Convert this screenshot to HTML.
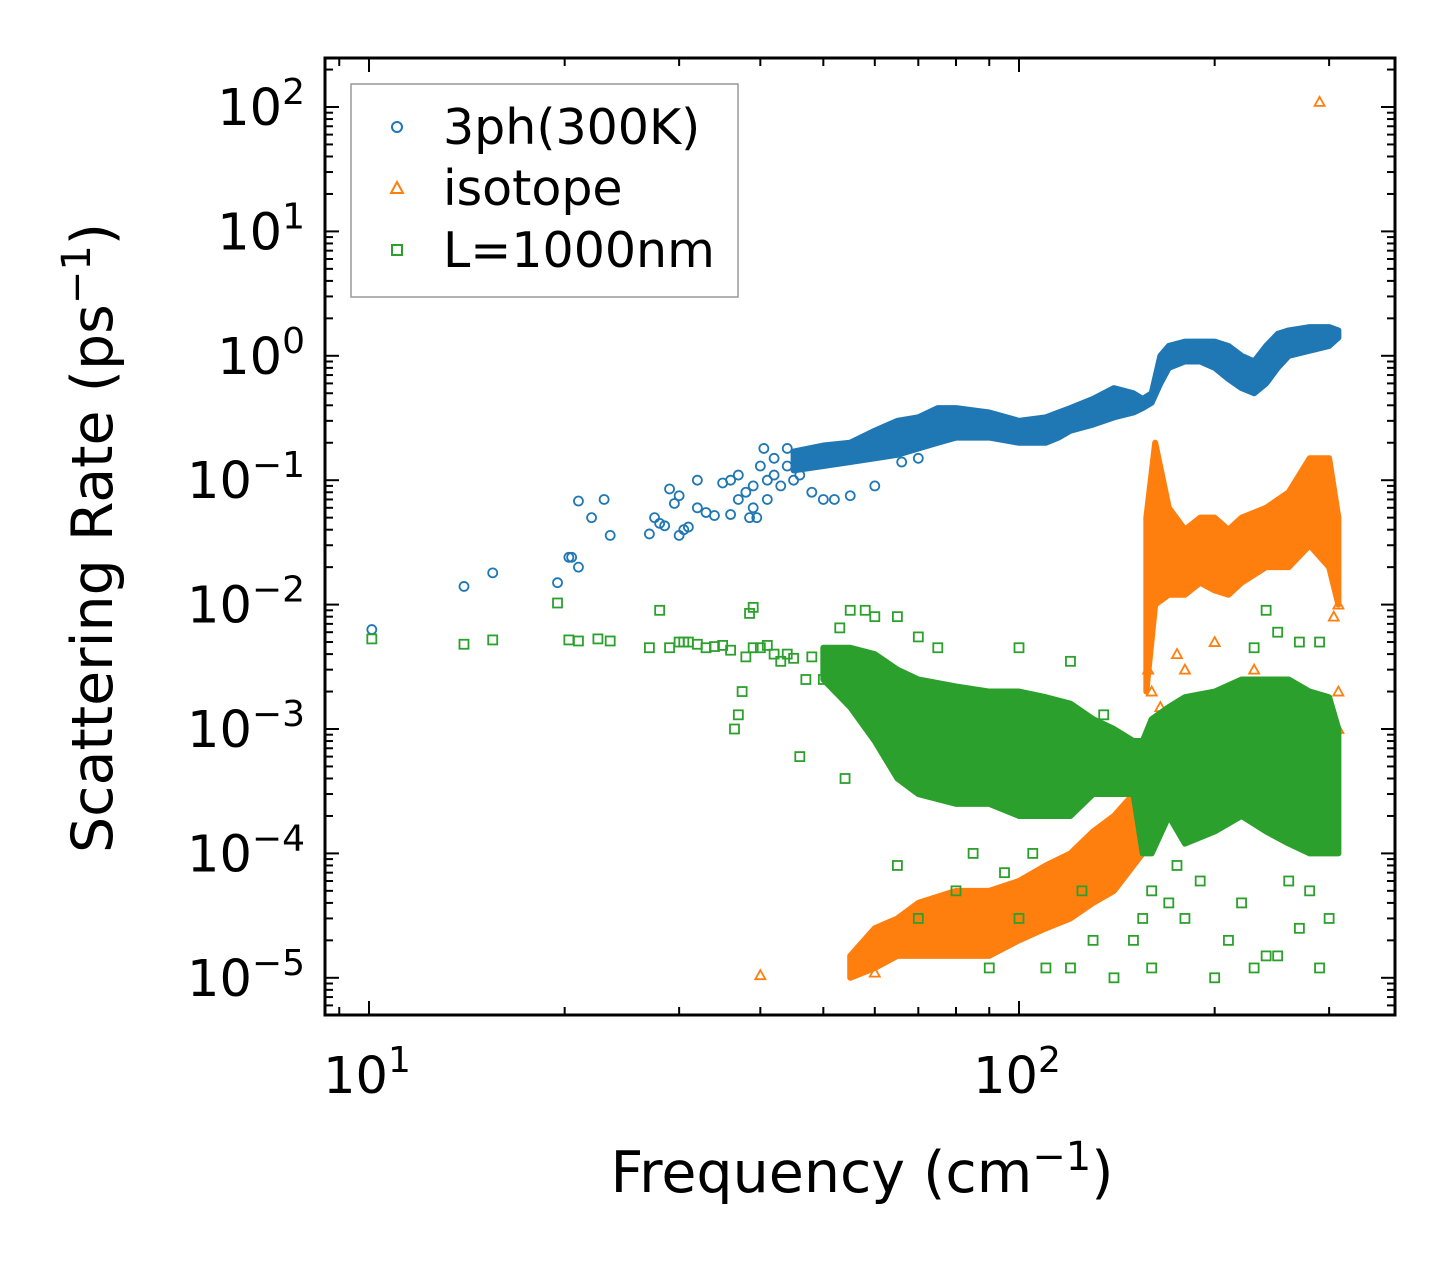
<!DOCTYPE html>
<html><head><meta charset="utf-8"><style>
html,body{margin:0;padding:0;background:#fff;}
svg{display:block;font-family:"DejaVu Sans","Liberation Sans",sans-serif;}
</style></head><body>
<svg id="chart" width="1455" height="1265" viewBox="0 0 1455 1265" xmlns="http://www.w3.org/2000/svg">
<rect width="1455" height="1265" fill="#fff"/>
<g id="plot"></g>
<rect x="325" y="58" width="1070" height="957" fill="none" stroke="#000" stroke-width="3"/>
<g id="axes"></g>
<text x="862" y="1192" font-size="57" text-anchor="middle">Frequency (cm<tspan dy="-22" font-size="40">−1</tspan><tspan dy="22">)</tspan></text>
<text transform="translate(112,538) rotate(-90)" font-size="57" text-anchor="middle">Scattering Rate (ps<tspan dy="-22" font-size="40">−1</tspan><tspan dy="22">)</tspan></text>
<g>
<rect x="351" y="84" width="387" height="213" fill="#fff" stroke="#999" stroke-width="1.5"/>
<circle cx="397" cy="127" r="5" fill="none" stroke="#1f77b4" stroke-width="2"/>
<text x="443" y="144" font-size="49">3ph(300K)</text>
<polygon points="397,182 403,193 391,193" fill="none" stroke="#ff7f0e" stroke-width="2"/>
<text x="443" y="205" font-size="49">isotope</text>
<rect x="392" y="245" width="10" height="10" fill="none" stroke="#2ca02c" stroke-width="2"/>
<text x="443" y="267" font-size="49">L=1000nm</text>
</g>
</svg>
<script>
// ---- data ----
const blueFreq=[10.1,14,15.5,19.5,20.3,20.5,21,21,22,23,23.5,27,27.5,28,28.5,29,29.5,30,30,30.5,31,32,32,33,34,35,36,36,37,37,38,38.5,39,39,39.5,40,40.5,41,41,42,42,43,44,44,45,46,47,48,48,50,50,52,55,60,66,70];
const blueVal=[0.0063,0.014,0.018,0.015,0.024,0.024,0.068,0.02,0.05,0.07,0.036,0.037,0.05,0.045,0.043,0.085,0.065,0.036,0.075,0.04,0.042,0.1,0.06,0.055,0.052,0.095,0.1,0.053,0.11,0.07,0.08,0.05,0.09,0.06,0.05,0.13,0.18,0.1,0.07,0.15,0.11,0.09,0.18,0.13,0.1,0.11,0.15,0.14,0.08,0.15,0.07,0.07,0.075,0.09,0.14,0.15];
const blueBandFreq=[45,50,55,60,65,70,75,80,90,100,110,115,120,130,140,150,155,160,165,170,180,190,200,210,220,230,240,250,260,280,300,310];
const blueBandLo=[0.12,0.13,0.14,0.15,0.16,0.18,0.2,0.22,0.22,0.2,0.2,0.22,0.25,0.28,0.32,0.35,0.38,0.42,0.6,0.8,0.9,0.9,0.8,0.65,0.55,0.5,0.6,0.8,1.0,1.1,1.2,1.4];
const blueBandHi=[0.17,0.19,0.2,0.25,0.3,0.32,0.38,0.38,0.35,0.3,0.32,0.35,0.38,0.45,0.55,0.5,0.45,0.5,1.0,1.2,1.3,1.3,1.3,1.2,1.0,0.9,1.2,1.5,1.6,1.7,1.7,1.6];

const orangeFreq=[40,290,158,160,165,170,175,180,200,230,310,310,310,305,60,150];
const orangeVal=[1.05e-5,110,3e-3,2e-3,1.5e-3,1.2e-3,4e-3,3e-3,5e-3,3e-3,1e-2,2e-3,1e-3,8e-3,1.1e-5,2e-4];
const orangeLowFreq=[55,60,65,70,80,90,100,110,120,130,140,150,155];
const orangeLowLo=[1e-5,1.2e-5,1.5e-5,1.5e-5,1.5e-5,1.5e-5,2e-5,2.5e-5,3e-5,4e-5,5e-5,8e-5,1e-4];
const orangeLowHi=[1.5e-5,2.5e-5,3e-5,4e-5,5e-5,5e-5,6e-5,8e-5,1e-4,1.5e-4,2e-4,3e-4,3e-4];
const orangeHighFreq=[157,162,170,180,190,200,210,220,240,260,280,300,310];
const orangeHighLo=[2e-3,1e-2,1.2e-2,1.2e-2,1.5e-2,1.3e-2,1.2e-2,1.5e-2,2e-2,2e-2,3e-2,2e-2,1e-2];
const orangeHighHi=[5e-2,2e-1,6e-2,4e-2,5e-2,5e-2,4e-2,5e-2,6e-2,8e-2,1.5e-1,1.5e-1,5e-2];

const greenFreq=[10.1,14,15.5,19.5,20.3,21,22.5,23.5,27,28,29,30,30.5,31,32,33,34,35,36,38,38.5,39,39,40,41,42,43,44,37,37.5,36.5,46,47,50,52,54,55,58,60,65,70,75,100,120,135,45,48,53,
 65,70,80,90,100,110,120,130,140,150,160,170,180,200,210,230,250,270,280,290,300,85,95,105,125,175,220,240,260,160,155,190,270,250,240,230,290];
const greenVal=[0.0053,0.0048,0.0052,0.0103,0.0052,0.0051,0.0053,0.0051,0.0045,0.009,0.0045,0.005,0.005,0.005,0.0048,0.0045,0.0046,0.0047,0.0043,0.0038,0.0085,0.0095,0.0045,0.0045,0.0047,0.004,0.0035,0.004,0.0013,0.002,0.001,0.0006,0.0025,0.0025,0.0025,0.0004,0.009,0.009,0.008,0.008,0.0055,0.0045,0.0045,0.0035,0.0013,0.0037,0.0038,0.0065,
 8e-5,3e-5,5e-5,1.2e-5,3e-5,1.2e-5,1.2e-5,2e-5,1e-5,2e-5,1.2e-5,4e-5,3e-5,1e-5,2e-5,1.2e-5,1.5e-5,2.5e-5,5e-5,1.2e-5,3e-5,1e-4,7e-5,1e-4,5e-5,8e-5,4e-5,1.5e-5,6e-5,5e-5,3e-5,6e-5,0.005,0.006,0.009,0.0045,0.005];
const greenBandFreq=[50,55,60,65,70,80,90,100,110,120,130,140,150,155,160,170,180,200,220,240,260,280,300,310];
const greenBandLo=[0.0025,0.0015,0.0008,0.0004,0.0003,0.00025,0.00025,0.0002,0.0002,0.0002,0.0003,0.0003,0.0003,0.0001,0.0001,0.0002,0.00012,0.00015,0.0002,0.00015,0.00012,0.0001,0.0001,0.0001];
const greenBandHi=[0.0045,0.0045,0.004,0.003,0.0025,0.0022,0.002,0.002,0.0018,0.0016,0.0012,0.001,0.0008,0.0008,0.0012,0.0015,0.0018,0.002,0.0025,0.0025,0.0025,0.002,0.0018,0.001];

const xTickVals=[10,100];
const xTickLabels=["10","10"];
const xTickExps=["1","2"];
const yTickExps=[2,1,0,-1,-2,-3,-4,-5];

// ---- axes ----
const L=325,R=1395,T=58,B=1015;
const xmin=Math.log10(10)-(369-L)/650, xmax=xmin+(R-L)/650;
const ymax=2+(107-T)/124.4, ymin=ymax-(B-T)/124.4;
const X=f=>L+(Math.log10(f)-xmin)/(xmax-xmin)*(R-L);
const Y=v=>T+(ymax-Math.log10(v))/(ymax-ymin)*(B-T);
const NS="http://www.w3.org/2000/svg";
const plot=document.getElementById('plot'), axes=document.getElementById('axes');
function mk(tag,attrs,parent){const e=document.createElementNS(NS,tag);for(const k in attrs)e.setAttribute(k,attrs[k]);parent.appendChild(e);return e;}

function band(fr,lo,hi,color,name){
  let pts=fr.map((f,i)=>X(f)+','+Y(hi[i]));
  for(let i=fr.length-1;i>=0;i--)pts.push(X(fr[i])+','+Y(lo[i]));
  const p=mk('polygon',{points:pts.join(' '),fill:color,stroke:color,'stroke-width':6,'stroke-linejoin':'round'},plot);
  
  
}
function marker(kind,f,v,color,name){
  const x=X(f),y=Y(v);let e;
  if(kind==='c')e=mk('circle',{cx:x,cy:y,r:4.5,fill:'none',stroke:color,'stroke-width':1.8},plot);
  else if(kind==='t')e=mk('polygon',{points:`${x},${y-5} ${x+5},${y+4} ${x-5},${y+4}`,fill:'none',stroke:color,'stroke-width':1.8},plot);
  else e=mk('rect',{x:x-4.5,y:y-4.5,width:9,height:9,fill:'none',stroke:color,'stroke-width':1.8},plot);
  
  
}
const cB='#1f77b4',cO='#ff7f0e',cG='#2ca02c';
band(blueBandFreq,blueBandLo,blueBandHi,cB,'3ph-dense-band');
blueFreq.forEach((f,i)=>marker('c',f,blueVal[i],cB,'3ph-point'));
band(orangeLowFreq,orangeLowLo,orangeLowHi,cO,'isotope-low-band');
band(orangeHighFreq,orangeHighLo,orangeHighHi,cO,'isotope-high-band');
orangeFreq.forEach((f,i)=>marker('t',f,orangeVal[i],cO,'isotope-point'));
band(greenBandFreq,greenBandLo,greenBandHi,cG,'boundary-dense-band');
greenFreq.forEach((f,i)=>marker('s',f,greenVal[i],cG,'boundary-point'));

// ticks
function tick(x1,y1,x2,y2){mk('line',{x1,y1,x2,y2,stroke:'#000','stroke-width':2},axes);}
for(let d=0;d<3;d++)for(let m=1;m<10;m++){const f=m*Math.pow(10,d);const x=X(f);if(x<L||x>R)continue;const len=m===1?14:8;tick(x,B,x,B-len);tick(x,T,x,T+len);}
for(let e=-6;e<3;e++)for(let m=1;m<10;m++){const v=m*Math.pow(10,e);const y=Y(v);if(y<T||y>B)continue;const len=m===1?14:8;tick(L,y,L+len,y);tick(R,y,R-len,y);}
xTickVals.forEach((v,i)=>{
  const t=mk('text',{x:X(v)-2,y:1093,'font-size':51,'text-anchor':'middle'},axes);
  t.textContent=xTickLabels[i];
  const s=mk('tspan',{dy:-21,'font-size':36},t);s.textContent=xTickExps[i];
  
  
});
yTickExps.forEach(e=>{
  const t=mk('text',{x:305,y:Y(Math.pow(10,e))+18,'font-size':51,'text-anchor':'end'},axes);
  t.textContent='10';
  const s=mk('tspan',{dy:-21,'font-size':36},t);s.textContent=e<0?'−'+(-e):String(e);
  
  
});
</script>
</body></html>
